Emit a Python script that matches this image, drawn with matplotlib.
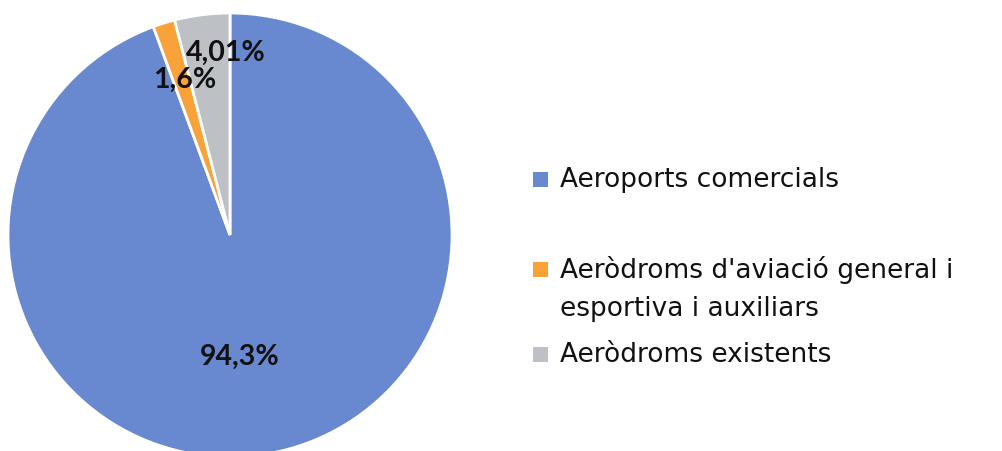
import matplotlib
matplotlib.use("Agg")
import matplotlib.pyplot as plt
from matplotlib.patches import Rectangle

W, H = 1002, 452

categories = [
    "Aeroports comercials",
    "Aeròdroms d'aviació general i\nesportiva i auxiliars",
    "Aeròdroms existents",
]
values = [94.3, 1.6, 4.01]
value_labels = ["94,3%", "1,6%", "4,01%"]
colors = ["#6889CF", "#F9A23A", "#BDC0C4"]

fig = plt.figure(figsize=(W / 100, H / 100), dpi=100)

# pie axes: centre ~ (230, 236) px, radius ~ 222 px (bottom runs off the figure)
cx, cy, r = 230, 236, 222
ax = fig.add_axes([(cx - r) / W, (H - cy - r) / H, 2 * r / W, 2 * r / H])
wedges, _ = ax.pie(
    values,
    colors=colors,
    startangle=90,
    counterclock=False,
    radius=1.0,
    wedgeprops=dict(edgecolor="white", linewidth=2),
)
ax.set_xlim(-1, 1)
ax.set_ylim(-1, 1)
ax.set_aspect("equal")
ax.axis("off")
for w in wedges:
    w.set_clip_on(False)

# data labels, placed in pixel positions converted to axes data coords
label_px = [(240, 357), (185, 80), (226, 53)]
for (px, py), txt in zip(label_px, value_labels):
    ax.text((px - cx) / r, (cy - py) / r, txt, ha="center", va="center",
            fontsize=20.5, fontweight="bold", family="Lato", color="#111111")

# legend drawn by hand to keep the uneven row spacing
legend_y = [180, 270, 355]
text_y = [180, 289, 355]
for y, ty, lab, col in zip(legend_y, text_y, categories, colors):
    fig.add_artist(Rectangle((533 / W, 1 - (y + 7.5) / H), 15 / W, 15 / H,
                             transform=fig.transFigure, facecolor=col,
                             edgecolor="none"))
    fig.text(560 / W, 1 - ty / H, lab, ha="left", va="center",
             fontsize=19, color="#111111", family="DejaVu Sans",
             linespacing=1.6)

fig.savefig("out.png", dpi=100)
